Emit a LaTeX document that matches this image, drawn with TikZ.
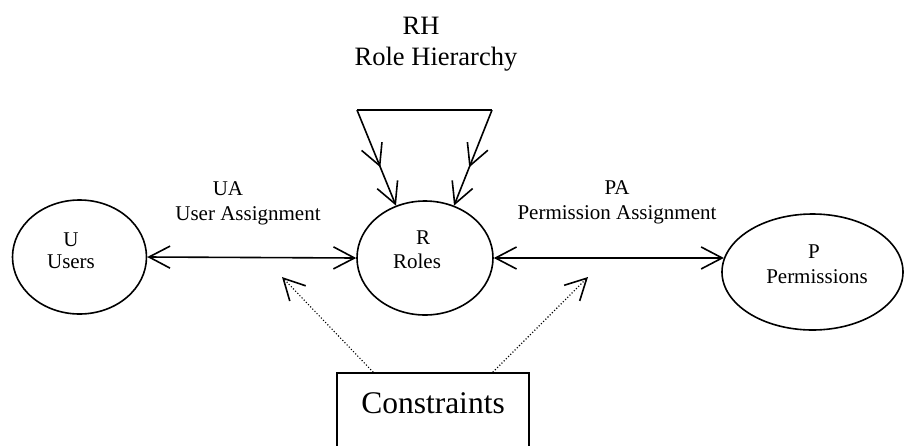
\documentclass[tikz,border=0pt]{standalone}
\usepackage{fontspec}
\setmainfont{Liberation Serif}
\usetikzlibrary{arrows.meta,shapes.geometric,decorations.markings}
\tikzset{vtip/.tip={Straight Barb[length=21pt,width=22pt,line width=1.6pt]}}
\begin{document}
\begin{tikzpicture}[x=1pt,y=-1pt,>={vtip},
  ell/.style={draw,ellipse,line width=1.6pt,inner sep=0pt},
  lbl/.style={inner sep=0pt,anchor=base,font=\fontsize{21}{25}\selectfont},
  biglbl/.style={inner sep=0pt,anchor=base,font=\fontsize{26.5}{30}\selectfont},
  conn/.style={line width=1.6pt,<->},
  rhline/.style={line width=1.6pt,->,postaction={decorate},
    decoration={markings,mark=at position 0.6 with {\arrow{>}}}},
  dotarrow/.style={line width=1.1pt,dotted,->},
  conbox/.style={draw,line width=1.6pt,inner sep=0pt,minimum width=192pt,
    text height=40pt,text depth=60pt,font=\fontsize{31.5}{36}\selectfont}]
\useasboundingbox (0,0) rectangle (905,445);
\clip (0,0) rectangle (905,445);

% ellipses
\node[ell,minimum width=134pt,minimum height=114pt] (U) at (79.5,257) {};
\node[ell,minimum width=136pt,minimum height=114pt] (R) at (425,258) {};
\node[ell,minimum width=181pt,minimum height=116pt] (P) at (812.5,272) {};

% ellipse texts
\node[lbl] (ut1) at (71,246) {U};
\node[lbl] (ut2) at (71,268) {Users};
\node[lbl] (rt1) at (423,244) {R};
\node[lbl] (rt2) at (417,268) {Roles};
\node[lbl] (pt1) at (814,258) {P};
\node[lbl] (pt2) at (817,283) {Permissions};

% assignment labels
\node[lbl] (ua1) at (228,195) {UA};
\node[lbl] (ua2) at (248,220) {User Assignment};
\node[lbl] (pa1) at (617,194) {PA};
\node[lbl] (pa2) at (617,219) {Permission Assignment};

% role hierarchy labels
\node[biglbl] (rh1) at (421,34) {RH};
\node[biglbl] (rh2) at (436,65) {Role Hierarchy};

% assignment connectors
\draw[conn] (U.east) -- (R.west);
\draw[conn] (R.east) -- (P.171);

% role hierarchy loop
\coordinate (rhL) at (357,110);
\coordinate (rhR) at (492,110);
\draw[line width=1.6pt] (rhL) -- (rhR);
\draw[rhline] (rhL) -- (R.119);
\draw[rhline] (rhR) -- (R.61);

% constraints
\node[conbox,anchor=base] (con) at (433,413) {Constraints};
\coordinate (ca) at (282,277);
\coordinate (cb) at (588,277);
\draw[dotarrow] ([xshift=37pt]con.north west) -- (ca);
\draw[dotarrow] ([xshift=-37pt]con.north east) -- (cb);
\end{tikzpicture}
\end{document}
